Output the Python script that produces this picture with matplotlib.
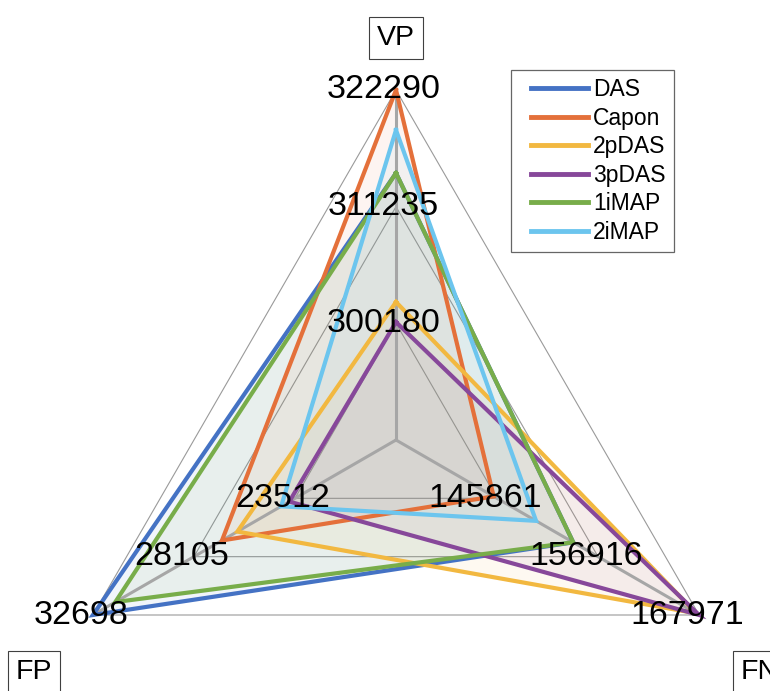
import numpy as np
import matplotlib
matplotlib.use("Agg")
import matplotlib.pyplot as plt
from matplotlib.legend_handler import HandlerLine2D
from matplotlib.lines import Line2D

plt.rcParams['font.family'] = ['Liberation Sans', 'DejaVu Sans']

# ---- data ----
axis_names = ['VP', 'FN', 'FP']
vp_ticks = [300180, 311235, 322290]
fn_ticks = [145861, 156916, 167971]
fp_ticks = [23512, 28105, 32698]
axis_min = [289125, 134806, 18919]

series_names = ['DAS', 'Capon', '2pDAS', '3pDAS', '1iMAP', '2iMAP']
das = [314420, 154200, 32698]
capon = [322290, 145490, 26830]
pdas2 = [302200, 167650, 26130]
pdas3 = [300300, 167971, 23770]
imap1 = [314420, 154200, 31680]
imap2 = [318500, 150130, 24140]
series_values = [das, capon, pdas2, pdas3, imap1, imap2]
colors = ['#4472C4', '#E4703A', '#F2B840', '#87489A', '#78AD4A', '#6CC5EE']

# ---- geometry ----
ticks_all = [vp_ticks, fn_ticks, fp_ticks]
angles = np.deg2rad([90, -30, 210])
ux, uy = np.cos(angles), np.sin(angles)

def frac(vals):
    return np.array([(v - axis_min[i]) / (ticks_all[i][-1] - axis_min[i]) for i, v in enumerate(vals)])

fig = plt.figure(figsize=(7.7, 6.91), dpi=100)
ax = fig.add_axes([0, 0, 1, 1])
ax.set_xlim(-396 / 350, (770 - 396) / 350)
ax.set_ylim((440 - 691) / 350, 440 / 350)
ax.axis('off')

# grid triangles
for lev in [1 / 3, 2 / 3, 1.0]:
    xs = np.append(ux * lev, ux[0] * lev)
    ys = np.append(uy * lev, uy[0] * lev)
    ax.plot(xs, ys, color='#9a9a9a', lw=0.8, zorder=1)
# spokes
for i in range(3):
    ax.plot([0, ux[i]], [0, uy[i]], color='#a6a6a6', lw=2.2, zorder=3)

# series
for name, vals, c in zip(series_names, series_values, colors):
    f = frac(vals)
    xs = np.append(ux * f, ux[0] * f[0])
    ys = np.append(uy * f, uy[0] * f[0])
    ax.fill(xs, ys, color=c, alpha=0.07, lw=0, zorder=2)
    ax.plot(xs, ys, color=c, lw=3.0, label=name, zorder=4, solid_joinstyle='miter')

# tick labels
for i in range(3):
    for k, t in enumerate(ticks_all[i]):
        lev = (k + 1) / 3
        ax.text(ux[i] * lev - 0.035, uy[i] * lev, str(t), fontsize=24.5,
                ha='center', va='center', color='black', zorder=6)

# axis titles
title_pos = [(0.0, (440 - 38) / 350), (1.04, (440 - 672) / 350), (-1.034, (440 - 672) / 350)]
for name, (tx, ty) in zip(axis_names, title_pos):
    ax.text(tx, ty, name, fontsize=20.5, ha='center', va='center', zorder=6,
            bbox=dict(boxstyle='square,pad=0.28', fc='white', ec='#404040', lw=0.8))

leg = ax.legend(loc='upper left', bbox_to_anchor=(511 / 770, 1 - 70 / 691), fontsize=16.5,
                frameon=True, fancybox=False, edgecolor='#404040', handlelength=3.0,
                handletextpad=0.22, labelspacing=0.24, borderpad=0.36, borderaxespad=0,
                handler_map={Line2D: HandlerLine2D(xpad=0.5)})
leg.get_frame().set_linewidth(0.9)
for line in leg.get_lines():
    line.set_linewidth(3.5)

fig.savefig('out.png', dpi=100)
